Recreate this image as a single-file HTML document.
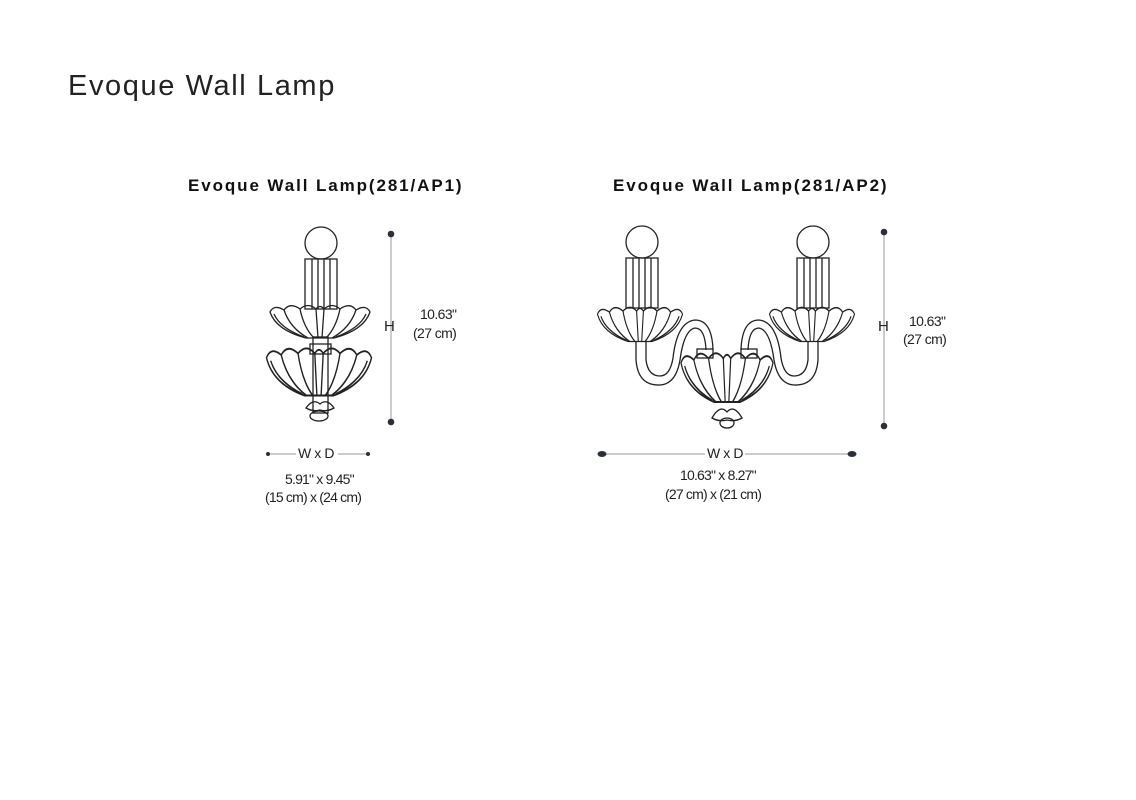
<!DOCTYPE html>
<html><head><meta charset="utf-8"><style>
html,body{margin:0;padding:0;background:#fff;}
body{width:1136px;height:800px;position:relative;overflow:hidden;font-family:"Liberation Sans",sans-serif;color:#111;}
.t{position:absolute;white-space:nowrap;}
</style></head><body>
<div class="t" style="left:68px;top:70px;font-size:29px;font-weight:300;color:#222;letter-spacing:1.6px;">Evoque Wall Lamp</div>
<div class="t" style="left:188px;top:176px;font-size:17px;font-weight:bold;letter-spacing:1.9px;">Evoque Wall Lamp(281/AP1)</div>
<div class="t" style="left:613px;top:176px;font-size:17px;font-weight:bold;letter-spacing:1.9px;">Evoque Wall Lamp(281/AP2)</div>

<svg width="1136" height="800" style="position:absolute;left:0;top:0" xmlns="http://www.w3.org/2000/svg">
<defs>
<g id="bowl" fill="none" stroke="#222" stroke-width="1.3">
  <path d="M-50,4 Q-46,-4 -36,2 Q-30,-6 -20,1 Q-12,-6 -4,1 Q0,-4 4,1 Q12,-6 20,1 Q30,-6 36,2 Q46,-4 50,4 Q44,22 14,30 L-14,30 Q-44,22 -50,4 Z"/>
  <path d="M-36,2 Q-30,20 -12,30 M-20,1 Q-16,20 -6,30 M-4,1 L-2,30 M4,1 L2,30 M20,1 Q16,20 6,30 M36,2 Q30,20 12,30"/>
  <path d="M-46,6 Q-40,20 -16,29 M46,6 Q40,20 16,29"/>
</g>
<g id="candle" fill="none" stroke="#222" stroke-width="1.3">
  <circle cx="0" cy="0" r="16"/>
  <rect x="-16" y="16" width="32" height="50"/>
  <path d="M-9,16 V66 M-3,16 V66 M3,16 V66 M9,16 V66"/>
</g>
</defs>

<use href="#candle" transform="translate(321,243)"/>
<use href="#bowl" transform="translate(320,308) scale(1,1)"/>
<g fill="none" stroke="#222" stroke-width="1.3">
  <rect x="313" y="337" width="15" height="76"/>
  <rect x="310" y="344" width="21" height="10"/>
</g>
<g transform="translate(319,352) scale(1.05,1.45)"><use href="#bowl"/></g>
<g fill="none" stroke="#222" stroke-width="1.3">
  <path d="M306,408 Q313,398 320,404 Q327,398 334,408 Q327,412 320,410 Q313,412 306,408Z"/>
  <ellipse cx="319" cy="416" rx="9" ry="5"/>
</g>

<g stroke="#bbb" stroke-width="1.5"><line x1="391" y1="234" x2="391" y2="422"/><line x1="268" y1="454" x2="296" y2="454"/><line x1="338" y1="454" x2="368" y2="454"/></g>
<g fill="#2a2f3a"><circle cx="391" cy="234" r="3.3"/><circle cx="391" cy="422" r="3.3"/><circle cx="268" cy="454" r="2"/><circle cx="368" cy="454" r="2"/></g>

<use href="#candle" transform="translate(642,242)"/>
<use href="#candle" transform="translate(813,242)"/>
<g transform="translate(640,310) scale(0.85,1.05)"><use href="#bowl"/></g>
<g transform="translate(812,310) scale(0.85,1.05)"><use href="#bowl"/></g>
<g fill="none" stroke="#222" stroke-width="1.3">
  <path d="M636,342 V360 Q638,386 660,385 Q676,384 680,360 Q684,330 695,328 Q705,328 706,350"/>
  <path d="M646,342 V360 Q648,376 660,376 Q670,376 673,358 Q677,322 695,320 Q712,320 713,350"/>
  <path d="M818,342 V360 Q816,386 794,385 Q778,384 774,360 Q770,330 759,328 Q749,328 748,350"/>
  <path d="M808,342 V360 Q806,376 794,376 Q784,376 781,358 Q777,322 759,320 Q742,320 741,350"/>
  <rect x="697" y="349" width="16" height="9"/>
  <rect x="741" y="349" width="16" height="9"/>
</g>
<g transform="translate(727,357) scale(0.92,1.5)"><use href="#bowl"/></g>
<g fill="none" stroke="#222" stroke-width="1.3">
  <path d="M712,418 Q720,404 727,412 Q734,404 742,418 Q735,422 727,420 Q719,422 712,418Z"/>
  <ellipse cx="727" cy="423" rx="7" ry="5"/>
</g>

<g stroke="#bbb" stroke-width="1.5"><line x1="884" y1="232" x2="884" y2="426"/><line x1="602" y1="454" x2="705" y2="454"/><line x1="745" y1="454" x2="852" y2="454"/></g>
<g fill="#2a2f3a"><circle cx="884" cy="232" r="3.3"/><circle cx="884" cy="426" r="3.3"/><ellipse cx="602" cy="454" rx="4.5" ry="3"/><ellipse cx="852" cy="454" rx="4.5" ry="3"/></g>
</svg>

<div class="t" style="left:384px;top:318px;font-size:15px;color:#222;">H</div>
<div class="t" style="left:420px;top:306px;font-size:14px;letter-spacing:-0.6px;color:#222;">10.63"</div>
<div class="t" style="left:413px;top:325px;font-size:14px;letter-spacing:-0.6px;color:#222;">(27 cm)</div>
<div class="t" style="left:298px;top:445px;font-size:14px;letter-spacing:-0.4px;color:#222;">W x D</div>
<div class="t" style="left:285px;top:471px;font-size:14px;letter-spacing:-0.8px;color:#222;">5.91" x 9.45"</div>
<div class="t" style="left:265px;top:489px;font-size:14px;letter-spacing:-0.8px;color:#222;">(15 cm) x (24 cm)</div>

<div class="t" style="left:878px;top:318px;font-size:15px;color:#222;">H</div>
<div class="t" style="left:909px;top:313px;font-size:14px;letter-spacing:-0.6px;color:#222;">10.63"</div>
<div class="t" style="left:903px;top:331px;font-size:14px;letter-spacing:-0.6px;color:#222;">(27 cm)</div>
<div class="t" style="left:707px;top:445px;font-size:14px;letter-spacing:-0.4px;color:#222;">W x D</div>
<div class="t" style="left:680px;top:467px;font-size:14px;letter-spacing:-0.8px;color:#222;">10.63" x 8.27"</div>
<div class="t" style="left:665px;top:486px;font-size:14px;letter-spacing:-0.8px;color:#222;">(27 cm) x (21 cm)</div>
</body></html>
